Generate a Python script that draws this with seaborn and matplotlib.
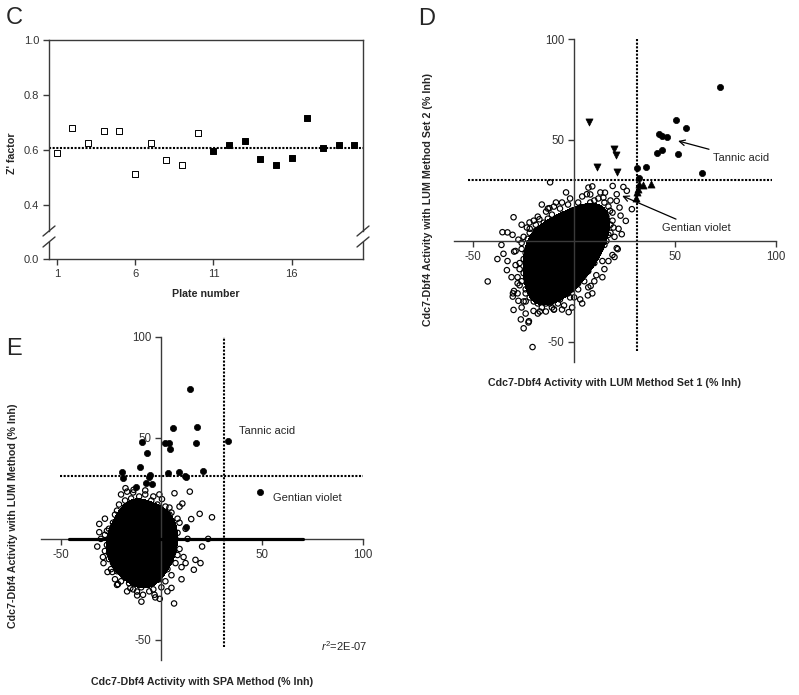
import numpy as np
import pandas as pd
import matplotlib
matplotlib.use("Agg")
import matplotlib.pyplot as plt
from matplotlib.colors import ListedColormap
from matplotlib.lines import Line2D
import seaborn as sns

sns.set_theme(style="white")
plt.rcParams["font.family"] = ["Liberation Sans", "DejaVu Sans"]
plt.rcParams["mathtext.fontset"] = "custom"
plt.rcParams["mathtext.rm"] = "Liberation Sans"
plt.rcParams["mathtext.it"] = "Liberation Sans:italic"

# ---------------- Panel C data ----------------
plates = list(range(1, 21))
zfactor = [0.589, 0.680, 0.625, 0.669, 0.669, 0.512, 0.626, 0.564, 0.545, 0.663,
           0.595, 0.618, 0.631, 0.567, 0.547, 0.572, 0.715, 0.606, 0.618, 0.618]
plate_set = ["Set 1"] * 10 + ["Set 2"] * 10
z_mean = 0.607
c_xticks = [1, 6, 11, 16]
c_yticks_top = [0.4, 0.6, 0.8, 1.0]
c_yticks_bottom = [0.0]

# ---------------- Panel D data ----------------
d_cloud_x = [-11.9, -30, -35.5, -33, -30.5, -27.6, -35, -29.7, -42.8, -20.6, -25, -26.4, -22.4, -30, -2.7,
             6.8, -33.3, -30.4, -29.8, 7.1, 6.3, -12.2, -13.9, -22.1, -23.4, -17.2, 19.1, 24.4, 26.1, 28.6,
             25.6, 21.6, 15.3, 14.5, 21.1, 17.8, 19.5, 23.6, 21.1, 8.2, 21.1, -22.6, -20.1, -27.6, -30.3,
             22.5, 23, -38, -36, -31, -28, -33, -29, -26, -24, -18, -14, -10, -6,
             -20, -16, -12, -8, -14, -18, -22, -25, -27, -24, -21, -25, -19, -15, -11, -7, -3, 2, 6, 10,
             13, 16, 18, 17, 15, 12, 10, 7, 5, 2, -2, -5, -9, -6, -3, 0, 4, 8, 11, 13, 9, 5, 1, -3, -7,
             -11, -15, -18, -21, -17, -13, -10, -7, -4, 0, 4, 7, 3, -1, -5, -9, -12, -15, -11, -8, -4, 0,
             -6, -10, -14, -17, -20, -23, -2, 2, 5, 9, 1, -2, -5, -12, -16, -20, -24, -28, -29, -26, -22,
             -18, -13, -9, -5, -1, 4, 8, 12, 14, 11, 7, 3, -1, -10, -17, -19, -13, -6, -3, 1, 6, 3, -1,
             -7, -11, -24, -27, 10, 15, 19, 20, 19, 15, -16, -20, -26,
             -26, -25, -24, -23, -26, -24, -22, -20, -21, -23, -22, -19, -20, -18, -14, -11, -7, -3, 0,
             2, 5, 8, 11, 13, 16, 18, 19, 17, 12, 8, 3, -2, -6, -10, -13, -17, -20, -27, -28, -25, -16,
             -12, 9, 4, 14, 17, 20, 22, 18, 13, 9, -4,
             -1, 2, -3, 1, -4, 4, -2, 3, -6, 0, 5, -1, 2, -5, 6, -3, 1, -2, 3, -4, 0, 4, -1, 2, 7, -6,
             5, -7, 8, -3, 0, 3, -8, 9, 6, -5, 1, -2, 10, -9]
d_cloud_y = [29, 11.7, 4.3, 4.2, 3, 0.6, -6.4, -5.3, -20.1, -52.6, -43.3, -38.9, -39.8, -34.2, -35.3,
             -27, -14.5, -27.6, -24.8, 26.4, 23.1, 16.2, 14.5, 9.1, 6.6, 10.7, 27.2, 26.7, 24.8, 15.7,
             9.9, -4.1, 23.9, 21.4, 19.8, 14.9, 6.6, 3.3, 23.1, -22.3, -3.6, -40.4, -34.7, -29.7, -26,
             16.5, 12.5, -9, -2, -18, -21, -10, -12, -33, -36, -36, -35, -34, -34,
             -30, -33, -31, -31, -27, -24, -20, -16, -11, -6, -2, 2, 5, 9, 13, 16, 18, 19, 17, 20,
             16, 12, 8, 3, -2, -6, -11, -15, -20, -24, -28, -32, -24, -20, -16, -12, -9, -5, 0, 6, 10, 13, 10, 7, 4,
             0, -4, -9, -13, -17, -20, -15, -11, -6, -2, 2, 6, 5, 1, -2, -6, -10, -13, -5, 0, 3, 6,
             9, 6, 3, 0, -6, -9, -8, -5, -1, 3, -16, -21, -25, -29, -22, -17, -24, -18, -5, -1, 6,
             12, 16, 19, 13, 15, 22, 23, 12, -10, -17, -23, -29, -33, -34, -35, -10, -7, -15, -12, -7, -10, -18, -24,
             -28, -33, -30, -22, -20, -14, -7, 2, 14, 19, 18, 10, 8,
             -4, -9, -14, -18, -20, -26, -28, -22, -8, 1, 4, 8, -27, -31, -31, -30, -29, -26, -28,
             -21, -17, -12, -8, -4, 0, 4, 10, 17, 21, 19, 16, 21, 19, 17, 11, 6, 2, -14, -26, -30, -27,
             -25, -26, -31, -18, -10, -8, 6, 20, 24, 27, 24,
             -1, 1, 2, -4, -3, 4, 5, -2, 0, 3, 0, -6, 6, 4, 3, -5, 1, -2, 2, 1, -3, -1, 4, -6, 6, -4,
             8, -7, 2, 8, 9, -8, -2, 9, -4, -9, 7, -10, 5, -6]
d_hit_x = [72.3, 50.6, 55.4, 41.9, 43.7, 45.9, 43.4, 40.9, 51.6, 63.2, 31.3, 35.6, 32.0]
d_hit_y = [76.2, 59.9, 55.8, 52.8, 52.0, 51.5, 45.2, 43.6, 42.9, 33.7, 36.1, 36.5, 31.3]
d_only2_x = [7.4, 20.0, 20.6, 11.2, 21.3]
d_only2_y = [59.1, 45.7, 42.6, 36.6, 34.2]
d_only1_x = [32.3, 34.3, 38.0, 31.0, 30.7, 31.8]
d_only1_y = [28.1, 27.7, 28.4, 24.4, 21.1, 25.5]
d_cut_x, d_cut_y = 31, 30
d_vline_span = [-54.5, 100]
d_hline_span = [-52.5, 98]

# ---------------- Panel E data ----------------
e_cloud_x = [6.5, 14.1, 10.4, 19, 25.1, 23.2, 4, 0.3, 6.3, -0.8, -9.9, -3.4, -22, -26.7, -24.3, -30.8,
             -30.8, -31.8, -28.7, 5, 16.1, 19.4, -12.1, -17.8, -15.4, -9.1, -21.5, 14.8, 20.2, 16.9,
             -20, -14, -8, 10, 12, -17, -13.8,
             -10, -14, -6, -10, -10, -16, -4, -13, -7, -18, -2, -20, 0, -17, -3, -12, -7, -14, -8, -3,
             -19, -22, 1, 2, -22, -24, -15, -10, -4, -20, -1, -25, 4, 3, -17, -11, -5, -23, -26, -27,
             -24, -19, -13, -7, -1, 3, 5, 6, 6, 5, -2, -9, -13, -6, -8, -12, -15, -4, -18, -1, -21, -16,
             -5, 1, 8, 9, 7, -28, -26, -22, -16, -10, -4, 2, 8, 9, -21, -15, -8, -1, 11, 12, -29, -23,
             -17, -30, -3, 3, 13, -12,
             -27, -26, -24, -22, -18, -11, -4, 2, 4, 7, 8, 5, 0, -6, -14, -20, -25, -28, -23, -19, 1, 3,
             -9, -15, -20, 10, -2, 9, -28, -7,
             -8, -6, -10, -7, -9, -5, -11, -4, -12, -8, -6, -10, -3, -13, -7, -9, -2, -14, -5, -11]
e_cloud_y = [22.6, 23.4, 17.5, 12.4, 10.7, 0, 15.5, 19.7, -32, -29.7, -31.1, -27.7, -22.8, -16.4, -16.4,
             7.4, 3.3, -3.8, -12, -24.3, -15.3, -12, -26.1, 25.1, -24.4, -27.7, -22.4, 9.8, -3.8, -10.4,
             22, 23, 24, -20, -12, 23.4, 24.3,
             -2, 2, 2, 6, -6, -4, -4, 9, 10, 5, 4, 0, -2, -9, -10, -13, -14, 14, 15, 12,
             10, -5, 6, -7, 4, -1, -15, -18, -18, -13, -14, -8, 2, 10, 16, 18, 19, 12, 5, -3,
             -12, -18, -21, -22, -20, -15, -8, -1, 6, 13, 17, -9, -9, -7, 4, -5, 6, 7, -2, 1, 8, 12,
             -1, -11, 3, -5, -12, 2, -7, -16, -22, -24, -25, -21, 10, 16, 17, 20, 22, 22, -9, 5, -9, -20,
             -26, 0, -29, -26, 0, -28,
             4, -10, 8, 14, 19, 21, 21, 16, 12, 0, -8, -18, -24, -26, -25, -21, -15, -6, -3, -7, -4, 5,
             13, 16, 13, -14, -15, 8, 10, -20,
             0, 2, 1, -3, 4, -1, -2, 3, 3, -5, 6, -7, -2, 0, 8, -9, 1, -4, -6, 6]
e_hit_x = [14.4, 5.8, 17.8, -9.6, 1.6, 3.6, 17.4, 33.2, 4.5, -7.1, -10.8, -19.3, -18.8, 3.3, 8.6,
           20.5, -5.5, -6.0, 11.6, 12.3, -7.6, -4.6, -12.8, 48.8, 12.4]
e_hit_y = [74.1, 55.1, 55.6, 48.2, 47.7, 47.4, 47.7, 48.5, 44.4, 42.4, 35.8, 33.3, 30.0, 32.5, 33.0,
           33.7, 31.7, 30.5, 31.2, 30.8, 27.6, 27.2, 25.5, 23.4, 6.1]
e_cut_x, e_cut_y = 31, 31
e_vline_span = [-53.5, 100]
e_hline_span = [-50.5, 100]
e_fit_span = [-46, 70]
e_fit_slope, e_fit_intercept = 0.0, 0.0

W, H = 799, 695
fig = plt.figure(figsize=(W / 100, H / 100), dpi=100)
fig.patch.set_facecolor("white")


def ax_at(l, t, r, b):
    return fig.add_axes([l / W, 1 - b / H, (r - l) / W, (b - t) / H])


def fx(x):
    return x / W


def fy(y):
    return 1 - y / H


SPINE = "#3a3a3a"
TICKC = "#333333"
dotted = (0, (1, 0.75))

# ================= Panel C =================
axc = ax_at(49, 40, 363, 231)
axc0 = ax_at(49, 242, 363, 259)
dfc = pd.DataFrame({"plate": plates, "z": zfactor, "set": plate_set})
s1 = dfc[dfc["set"] == "Set 1"]
s2 = dfc[dfc["set"] == "Set 2"]
axc.axhline(z_mean, color="black", lw=1.5, ls=dotted, zorder=1)
sns.scatterplot(data=s1, x="plate", y="z", ax=axc, marker="s", s=14,
                facecolor="white", edgecolor="black", linewidth=0.7, zorder=3)
sns.scatterplot(data=s2, x="plate", y="z", ax=axc, marker="s", s=16,
                color="black", edgecolor="black", linewidth=0.7, zorder=3)
for a in (axc, axc0):
    a.set_xlim(0.5, 20.55)
    a.set_xlabel("")
    a.set_ylabel("")
    for sp in a.spines.values():
        sp.set_color(SPINE)
        sp.set_linewidth(1)
axc.set_ylim(1.0 - (231 - 40) * 0.2 / 55, 1.0)
axc0.set_ylim(0, (259 - 242) * 0.2 / 55)
axc.spines["bottom"].set_visible(False)
axc0.spines["top"].set_visible(False)
axc.set_yticks(c_yticks_top)
axc.set_yticklabels([f"{v:.1f}" for v in c_yticks_top])
axc.set_xticks([])
axc0.set_yticks(c_yticks_bottom)
axc0.set_yticklabels([f"{v:.1f}" for v in c_yticks_bottom])
axc0.set_xticks(c_xticks)
axc0.set_xticklabels([str(v) for v in c_xticks])
for a in (axc, axc0):
    a.tick_params(axis="both", direction="out", length=4, width=1, color=SPINE,
                  labelsize=8, labelcolor=TICKC, pad=3, left=True, bottom=True)
axc.tick_params(bottom=False)
# break marks
for xp in (49, 363):
    for yp in (231, 242):
        fig.add_artist(Line2D([fx(xp - 6), fx(xp + 6)], [fy(yp + 5), fy(yp - 5)],
                              color=SPINE, lw=1))
fig.text(fx(12), fy(153), "Z' factor", rotation=90, ha="center", va="center",
         fontsize=7.7, fontweight="bold")
fig.text(fx(206), fy(294), "Plate number", ha="center", va="center",
         fontsize=7.7, fontweight="bold")
fig.text(fx(6), fy(18), "C", ha="left", va="center", fontsize=17)


def style_cross(ax, xlim, ylim):
    ax.set_xlim(*xlim)
    ax.set_ylim(*ylim)
    ax.set_facecolor("none")
    ax.spines["left"].set_position(("data", 0))
    ax.spines["bottom"].set_position(("data", 0))
    ax.spines["top"].set_visible(False)
    ax.spines["right"].set_visible(False)
    for k in ("left", "bottom"):
        ax.spines[k].set_color(SPINE)
        ax.spines[k].set_linewidth(1)
    ax.set_xticks([-50, 50, 100])
    ax.set_yticks([-50, 50, 100])
    ax.set_xticklabels(["-50", "50", "100"])
    ax.set_yticklabels(["-50", "50", "100"])
    ax.tick_params(axis="both", direction="out", length=4, width=1, color=SPINE,
                   labelsize=8.3, labelcolor=TICKC, pad=3, left=True, bottom=True)
    ax.set_xlabel("")
    ax.set_ylabel("")


black_cmap = ListedColormap(["black"])

# ================= Panel D =================
axd = ax_at(454, 39, 776, 362)
sns.kdeplot(x=d_cloud_x, y=d_cloud_y, ax=axd, fill=True, levels=[0.52, 1],
            cmap=black_cmap, bw_adjust=1.4, zorder=1)
sns.scatterplot(x=d_cloud_x, y=d_cloud_y, ax=axd, marker="o", s=15,
                facecolor="none", edgecolor="black", linewidth=0.85, zorder=2)
axd.plot(d_hline_span, [d_cut_y, d_cut_y], color="black", lw=1.5, ls=dotted, zorder=1)
axd.plot([d_cut_x, d_cut_x], d_vline_span, color="black", lw=1.5, ls=dotted, zorder=1)
sns.scatterplot(x=d_hit_x, y=d_hit_y, ax=axd, marker="o", s=20, color="black",
                edgecolor="black", linewidth=0.5, zorder=4)
sns.scatterplot(x=d_only2_x, y=d_only2_y, ax=axd, marker="v", s=26, color="black",
                edgecolor="black", linewidth=0.5, zorder=4)
sns.scatterplot(x=d_only1_x, y=d_only1_y, ax=axd, marker="^", s=26, color="black",
                edgecolor="black", linewidth=0.5, zorder=4)
style_cross(axd, (-59.5, 100), (-60, 100))
arrow = dict(arrowstyle="->,head_length=0.5,head_width=0.25", color="black", lw=0.9,
             shrinkA=1, shrinkB=0)
axd.annotate("Tannic acid", xy=(51.5, 49.5), xytext=(68.8, 41.1), fontsize=8,
             va="center", ha="left", arrowprops=arrow, zorder=5)
axd.annotate("Gentian violet", xy=(23.8, 22.3), xytext=(43.6, 6.4), fontsize=8,
             va="center", ha="left", arrowprops=arrow, zorder=5)
fig.text(fx(428), fy(200), "Cdc7-Dbf4 Activity with LUM Method Set 2 (% Inh)", rotation=90,
         ha="center", va="center", fontsize=7.7, fontweight="bold")
fig.text(fx(615), fy(383), "Cdc7-Dbf4 Activity with LUM Method Set 1 (% Inh)",
         ha="center", va="center", fontsize=7.7, fontweight="bold")
fig.text(fx(418), fy(19), "D", ha="left", va="center", fontsize=17)

# ================= Panel E =================
axe = ax_at(41, 337, 363, 660)
sns.kdeplot(x=e_cloud_x, y=e_cloud_y, ax=axe, fill=True, levels=[0.5, 1],
            cmap=black_cmap, bw_adjust=1.4, zorder=1)
sns.scatterplot(x=e_cloud_x, y=e_cloud_y, ax=axe, marker="o", s=15,
                facecolor="none", edgecolor="black", linewidth=0.85, zorder=2)
axe.plot(e_hline_span, [e_cut_y, e_cut_y], color="black", lw=1.5, ls=dotted, zorder=1)
axe.plot([e_cut_x, e_cut_x], e_vline_span, color="black", lw=1.5, ls=dotted, zorder=1)
fit_x = np.array(e_fit_span)
axe.plot(fit_x, e_fit_slope * fit_x + e_fit_intercept, color="black", lw=2.3, zorder=3)
sns.scatterplot(x=e_hit_x, y=e_hit_y, ax=axe, marker="o", s=20, color="black",
                edgecolor="black", linewidth=0.5, zorder=4)
style_cross(axe, (-59.7, 100), (-60, 100))
axe.text(38.3, 53.5, "Tannic acid", fontsize=8, va="center", ha="left")
axe.text(55.2, 20.3, "Gentian violet", fontsize=8, va="center", ha="left")
axe.text(79, -53, r"$\it{r}^{2}$=2E-07", fontsize=8, va="center", ha="left")
fig.text(fx(13), fy(516), "Cdc7-Dbf4 Activity with LUM Method (% Inh)", rotation=90,
         ha="center", va="center", fontsize=7.7, fontweight="bold")
fig.text(fx(202), fy(682), "Cdc7-Dbf4 Activity with SPA Method (% Inh)",
         ha="center", va="center", fontsize=7.7, fontweight="bold")
fig.text(fx(6), fy(349), "E", ha="left", va="center", fontsize=17)

fig.savefig("out.png", dpi=100, facecolor="white")
